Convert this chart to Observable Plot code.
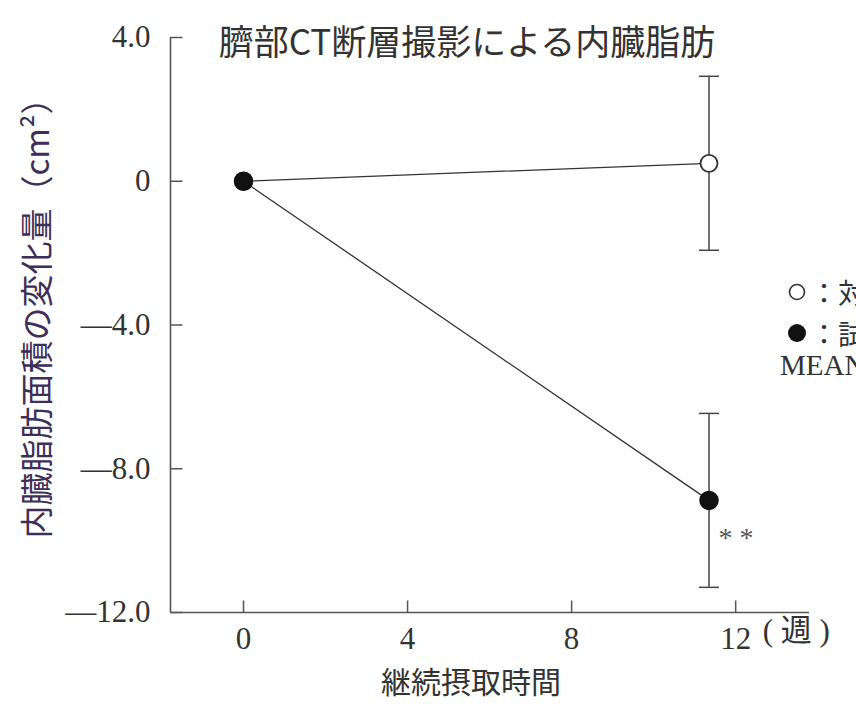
<!DOCTYPE html>
<html><head><meta charset="utf-8">
<script src="https://cdn.jsdelivr.net/npm/d3@7"></script>
<script src="https://cdn.jsdelivr.net/npm/@observablehq/plot@0.6"></script>
<style>
body{margin:0;background:#fff;}
#wrap{position:relative;width:856px;height:704px;overflow:hidden;background:#fff;}
#wrap svg{position:absolute;left:0;top:0;}
.lg{position:absolute;white-space:nowrap;color:#333;}
.cjk{font-family:"Noto Sans CJK JP",sans-serif;}
.serif{font-family:"Liberation Serif","DejaVu Serif",serif;}
</style></head>
<body><div id="wrap"></div>
<script>
// ---- data ----
const weeks = [0, 11.35];
const groupNames = ["対照群", "試験食群"];
const controlMean = [0, 0.5];
const controlSE = [0, 2.42];
const testMean = [0, -8.88];
const testSE = [0, 2.42];
const yTicks = [-12, -8, -4, 0, 4];
const xTicks = [0, 4, 8, 12];
const titleText = "臍部CT断層撮影による内臓脂肪";
const yLabelText = "内臓脂肪面積の変化量（cm²）";
const xLabelText = "継続摂取時間";
const xUnitText = "( 週 )";
const sigText = "* *";
const legendNote = "MEAN±SE";

// ---- table ----
const rows = [];
weeks.forEach((w, i) => {
  rows.push({group: groupNames[0], week: w, mean: controlMean[i], se: controlSE[i], filled: false});
  rows.push({group: groupNames[1], week: w, mean: testMean[i], se: testSE[i], filled: true});
});
const errRows = rows.filter(d => d.se > 0);
const sigRow = errRows.filter(d => d.filled);

const xDomain = [-1.78, 13.8];
const yDomain = [-12, 4];

const capSymbol = {draw(ctx, size) { const w = Math.sqrt(size / Math.PI); ctx.moveTo(-w, 0); ctx.lineTo(w, 0); }};
const tickRight = {draw(ctx, size) { const w = Math.sqrt(size / Math.PI); ctx.moveTo(0, 0); ctx.lineTo(2 * w, 0); }};
const tickUp = {draw(ctx, size) { const w = Math.sqrt(size / Math.PI); ctx.moveTo(0, 0); ctx.lineTo(0, -2 * w); }};
const fmtY = d => d === 0 ? "0" : d3.format(".1f")(Math.abs(d)).replace(/^/, d < 0 ? "—" : "");
const serif = "Liberation Serif, DejaVu Serif, serif";
const cjk = "Noto Sans CJK JP, sans-serif";
const ink = "#333";
const axisInk = "#555";

const chart = Plot.plot({
  width: 856, height: 704,
  marginTop: 37, marginBottom: 92, marginLeft: 170, marginRight: 47,
  style: {background: "transparent", color: ink},
  x: {domain: xDomain},
  y: {domain: yDomain},
  marks: [
    Plot.axisY(yTicks, {tickSize: 0, tickPadding: 20, tickFormat: fmtY, fontSize: 31, fontFamily: serif, fill: ink, label: null}),
    Plot.axisX(xTicks, {tickSize: 0, tickPadding: 14, tickFormat: d => String(d), fontSize: 31, fontFamily: serif, fill: ink, label: null}),
    Plot.ruleX([xDomain[0]], {stroke: axisInk, strokeWidth: 1.6}),
    Plot.ruleY([yDomain[0]], {stroke: axisInk, strokeWidth: 1.6}),
    Plot.dot(yTicks, {x: () => xDomain[0], y: d => d, symbol: tickRight, r: 6, stroke: axisInk, strokeWidth: 1.5}),
    Plot.dot(xTicks, {x: d => d, y: () => yDomain[0], symbol: tickUp, r: 6, stroke: axisInk, strokeWidth: 1.5}),
    Plot.text([xUnitText], {x: () => xTicks[xTicks.length - 1], frameAnchor: "bottom", textAnchor: "start", dx: 27, dy: 28, fontSize: 31, fontFamily: "Liberation Serif, Noto Sans CJK JP, serif", fill: ink}),
    Plot.text([titleText], {frameAnchor: "top", dx: -23, dy: -7, fontSize: 35, fontFamily: cjk, fill: ink}),
    Plot.text([xLabelText], {frameAnchor: "bottom", dx: -19, dy: 80, fontSize: 30, fontFamily: cjk, fill: ink}),
    Plot.text([yLabelText], {frameAnchor: "left", textAnchor: "middle", rotate: -90, dx: -132, dy: -15, fontSize: 33, fontFamily: cjk, fill: "#3d2f58"}),
    Plot.line(rows, {x: "week", y: "mean", z: "group", stroke: ink, strokeWidth: 1.3}),
    Plot.ruleX(errRows, {x: "week", y1: d => d.mean - d.se, y2: d => d.mean + d.se, stroke: "#444", strokeWidth: 1.5}),
    Plot.dot(errRows, {x: "week", y: d => d.mean + d.se, symbol: capSymbol, r: 10, stroke: "#444", strokeWidth: 1.5}),
    Plot.dot(errRows, {x: "week", y: d => d.mean - d.se, symbol: capSymbol, r: 10, stroke: "#444", strokeWidth: 1.5}),
    Plot.dot(rows.filter(d => !d.filled), {x: "week", y: "mean", r: 8.5, fill: "#fff", stroke: ink, strokeWidth: 1.8}),
    Plot.dot(rows.filter(d => d.filled), {x: "week", y: "mean", r: 9, fill: "#111", stroke: "#111"}),
    Plot.text(sigRow, {x: "week", y: "mean", text: () => sigText, dx: 27, dy: 38, fontSize: 28, fontFamily: serif, fill: "#555"})
  ]
});
const wrap = document.getElementById("wrap");
wrap.appendChild(chart);

// legend (partly outside the picture on the right, as in the source)
const lg = document.createElement("div");
lg.innerHTML = `
<svg class="lg" style="left:786px;top:280px" width="24" height="64">
  <circle cx="11" cy="12" r="7.5" fill="#fff" stroke="#333" stroke-width="1.6"/>
  <circle cx="11" cy="53" r="9" fill="#111"/>
</svg>
<div class="lg cjk" style="left:810px;top:277px;font-size:28px;line-height:30px">：${groupNames[0]}</div>
<div class="lg cjk" style="left:810px;top:318px;font-size:28px;line-height:30px">：${groupNames[1]}</div>
<div class="lg serif" style="left:780px;top:350px;font-size:29px;line-height:30px">${legendNote}</div>`;
wrap.appendChild(lg);
</script>
</body></html>
